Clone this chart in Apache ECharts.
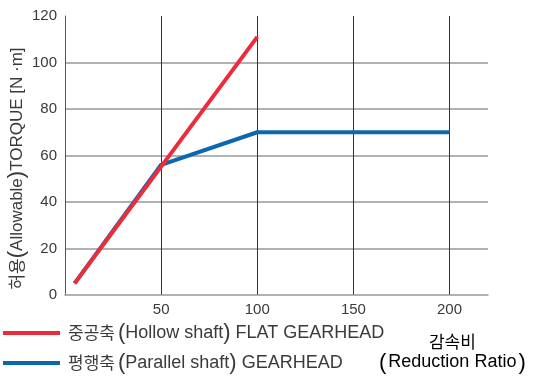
<!DOCTYPE html>
<html><head><meta charset="utf-8">
<script src="https://cdn.jsdelivr.net/npm/echarts@6/dist/echarts.min.js"></script>
<style>html,body{margin:0;padding:0;background:#fff}#c{width:533px;height:378px}</style>
</head><body><div id="c"></div>
<script>
const ratioHollow = [5, 100];
const torqueHollow = [5, 111];
const ratioParallel = [5, 50, 100, 200];
const torqueParallel = [5, 56, 70, 70];
const xTicks = [50, 100, 150, 200];
const yTicks = [0, 20, 40, 60, 80, 100, 120];
const seriesKo = ['중공축', '평행축'];
const seriesEn = ['Hollow shaft', 'Parallel shaft'];
const seriesType = ['FLAT GEARHEAD', 'GEARHEAD'];
const yNameKo = '허용';
const yNameEn = 'Allowable';
const yNameRest = 'TORQUE [N ·m]';
const xNameKo = '감속비';
const xNameEn = 'Reduction Ratio';

const LAT = '"Liberation Sans", Arial, sans-serif';
const KR = '"Noto Sans CJK KR", sans-serif';
const TXT = '#3a3a3a';

const chart = echarts.init(document.getElementById('c'), null, {renderer: 'canvas'});
const names = seriesKo.map((k, i) => k + i);
chart.setOption({
  animation: false,
  grid: {left: 65, right: 45, top: 16, bottom: 83, outerBoundsMode: 'none', containLabel: false},
  xAxis: {
    type: 'value', min: 0, max: 220, interval: 50,
    axisLine: {show: true, lineStyle: {color: '#999', width: 1.5}},
    axisTick: {show: false},
    axisLabel: {color: TXT, fontSize: 15, fontFamily: LAT, margin: 7,
      showMinLabel: false, showMaxLabel: false,
      formatter: v => xTicks.includes(v) ? String(v) : ''},
    splitLine: {show: true, showMinLine: false, showMaxLine: false, lineStyle: {color: '#333', width: 1}}
  },
  yAxis: {
    type: 'value', min: 0, max: 120, interval: 20,
    axisLine: {show: true, lineStyle: {color: '#555', width: 1}},
    axisTick: {show: false},
    axisLabel: {color: TXT, fontSize: 15, fontFamily: LAT, margin: 8,
      formatter: v => yTicks.includes(v) ? String(v) : ''},
    splitLine: {show: true, showMinLine: false, showMaxLine: false, lineStyle: {color: '#999', width: 1.5}},
    name: '{k|' + yNameKo + '}{p|(}{e|' + yNameEn + '}{p|)}{e|' + yNameRest + '}',
    nameLocation: 'middle', nameRotate: 90, nameGap: 37, nameMoveOverlap: false,
    nameTextStyle: {padding: [0, 26, 0, 0],
      rich: {
        k: {fontFamily: KR, fontSize: 17, color: TXT},
        p: {fontFamily: LAT, fontSize: 22, color: TXT},
        e: {fontFamily: LAT, fontSize: 17, color: TXT}
      }}
  },
  legend: {
    orient: 'vertical', left: 3, top: 322, padding: 0, itemWidth: 57, itemHeight: 4, itemGap: 8,
    icon: 'rect', selectedMode: false,
    data: names,
    formatter: n => {
      const i = names.indexOf(n);
      return '{k|' + seriesKo[i] + '}{p|(}{e|' + seriesEn[i] + '}{p|)}{f|' + seriesType[i] + '}';
    },
    textStyle: {
      rich: {
        k: {fontFamily: KR, fontSize: 17, color: TXT, lineHeight: 24, padding: [0, 3, 0, 3]},
        p: {fontFamily: LAT, fontSize: 22, color: TXT, lineHeight: 24},
        e: {fontFamily: LAT, fontSize: 18, color: TXT, lineHeight: 24},
        f: {fontFamily: LAT, fontSize: 18, color: TXT, lineHeight: 24, padding: [0, 0, 0, 5]}
      }
    }
  },
  graphic: [{
    type: 'text', left: 379, top: 333,
    style: {
      text: '{k|' + xNameKo + '}\n{p|(}{e|' + xNameEn + '}{p|)}',
      align: 'center',
      rich: {
        k: {fontFamily: KR, fontSize: 17, color: TXT, align: 'center', lineHeight: 21},
        p: {fontFamily: LAT, fontSize: 22, color: TXT, lineHeight: 21},
        e: {fontFamily: LAT, fontSize: 18, color: TXT, lineHeight: 21, padding: [0, 2, 0, 2]}
      }
    }
  }],
  series: [
    {name: names[1], type: 'line', symbol: 'none', z: 2,
      data: ratioParallel.map((x, i) => [x, torqueParallel[i]]),
      lineStyle: {color: '#0b68b0', width: 4}, itemStyle: {color: '#0b68b0'}},
    {name: names[0], type: 'line', symbol: 'none', z: 3,
      data: ratioHollow.map((x, i) => [x, torqueHollow[i]]),
      lineStyle: {color: '#ee2b3b', width: 4}, itemStyle: {color: '#ee2b3b'}}
  ]
});
</script></body></html>
